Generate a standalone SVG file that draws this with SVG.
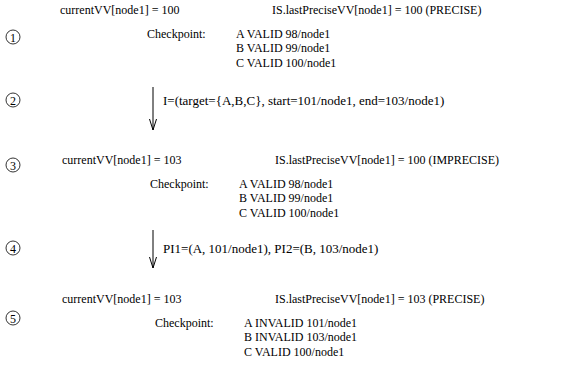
<svg xmlns="http://www.w3.org/2000/svg" width="576" height="366" viewBox="0 0 576 366">
<style>
text{font-family:"Liberation Serif","Times New Roman",serif;font-size:12px;fill:#000}
.c{fill:none;stroke:#000;stroke-width:0.8}
.n{text-anchor:middle;font-size:12px}
.ar{stroke:#000;stroke-width:1;fill:none}
.lb{font-size:13px}
</style>
<rect width="576" height="366" fill="#fff"/>
<g id="step1">
<circle class="c" cx="13" cy="37" r="7"/><text class="n" x="13" y="41.5">1</text>
<text x="60" y="13.5">currentVV[node1] = 100</text>
<text x="272" y="13.5">IS.lastPreciseVV[node1] = 100 (PRECISE)</text>
<text x="147" y="37.5">Checkpoint:</text>
<text x="236" y="37.5">A VALID 98/node1</text>
<text x="236" y="52">B VALID 99/node1</text>
<text x="236" y="66.5">C VALID 100/node1</text>
</g>
<g id="step2">
<circle class="c" cx="13" cy="100" r="7"/><text class="n" x="13" y="104.5">2</text>
</g>
<g id="step3">
<circle class="c" cx="13" cy="165" r="7"/><text class="n" x="13" y="169.5">3</text>
<text x="62" y="163.5">currentVV[node1] = 103</text>
<text x="275" y="163.5">IS.lastPreciseVV[node1] = 100 (IMPRECISE)</text>
<text x="150" y="187.5">Checkpoint:</text>
<text x="239" y="187.5">A VALID 98/node1</text>
<text x="239" y="202">B VALID 99/node1</text>
<text x="239" y="216.5">C VALID 100/node1</text>
</g>
<g id="step4">
<circle class="c" cx="13" cy="248" r="7"/><text class="n" x="13" y="252.5">4</text>
</g>
<g id="step5">
<circle class="c" cx="13" cy="318" r="7"/><text class="n" x="13" y="322.5">5</text>
<text x="62" y="302.5">currentVV[node1] = 103</text>
<text x="275" y="302.5">IS.lastPreciseVV[node1] = 103 (PRECISE)</text>
<text x="155" y="326.5">Checkpoint:</text>
<text x="244" y="326.5">A INVALID 101/node1</text>
<text x="244" y="341">B INVALID 103/node1</text>
<text x="244" y="355.5">C VALID 100/node1</text>
</g>
<g id="connectors">
<path class="ar" d="M153 87V130M149.5 119L153 130L156.5 119"/>
<text class="lb" x="163" y="104.5">I=(target={A,B,C}, start=101/node1, end=103/node1)</text>
<path class="ar" d="M153 230V268M149.5 257L153 268L156.5 257"/>
<text class="lb" x="163" y="252.5">PI1=(A, 101/node1), PI2=(B, 103/node1)</text>
</g>
</svg>
